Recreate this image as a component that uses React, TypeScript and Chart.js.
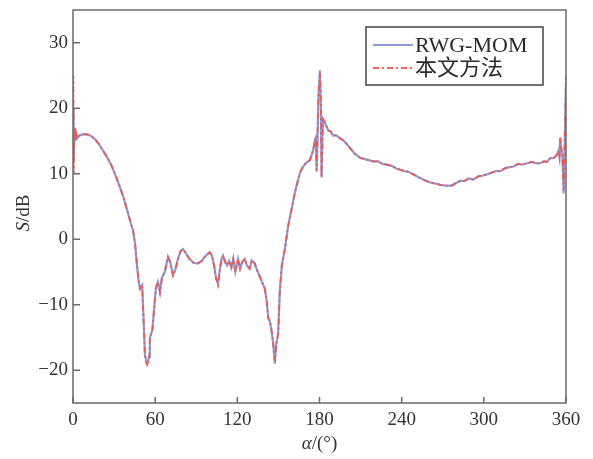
import React, { useEffect, useRef } from "react";
import { Chart, registerables } from "chart.js";

Chart.register(...registerables);

const angles = [
  0, 0.3, 0.6, 1, 1.5, 2.2, 3, 4.5, 7, 10, 13, 16, 19, 22, 25, 28, 31, 34, 37, 40,
  42, 44, 45.5, 46.5, 48, 49, 50.5, 51.5, 52.5, 53.5, 54.7, 55.5, 56.2, 58, 59.5, 60.5,
  62, 63.5, 65, 67, 69.4, 71, 73, 74.5, 76.7, 78.5, 80.3, 82, 85, 88, 91, 94, 97, 99.8,
  101.5, 103, 104.5, 105.9, 107, 108.5, 109.6, 111, 112.5, 114, 115.7, 117, 118.5, 120.5,
  122, 123.5, 125.4, 127, 129, 130.5, 132.7, 134, 136.4, 138, 140, 141.5, 142.5, 143.7,
  144.8, 146, 147.4, 148.4, 149.8, 151, 152.5, 154.7, 157.1, 159.6, 162, 164.4, 166, 168,
  170, 173, 175.4, 176.6, 177.3, 177.9, 178.5, 179.2, 180.3, 181, 181.5, 182.2, 182.7,
  184, 186.4, 188, 190, 192, 195, 198, 202, 206, 210, 214, 219, 223, 226, 229, 233, 236,
  239, 242, 245, 248.5, 252, 255, 258, 262, 265, 268, 272, 276.6, 279, 282.7, 286, 289,
  292.4, 296, 299, 302.2, 306, 309, 312, 316, 319, 321.7, 325, 328, 331.5, 335, 338,
  341.2, 344, 346, 348.5, 351, 353.4, 354.5, 355.2, 355.8, 356.5, 357.4, 358.3, 359,
  359.6, 360,
];

const rwgMom = [
  18, 20, 12, 17, 15, 16.2, 15.4, 15.8, 16, 16, 15.8, 15.3, 14.5, 13.5, 12.5, 11.3, 9.8, 8.1, 6.3, 4.1,
  2.6, 1.2, -1, -3.5, -6.5, -7.5, -7, -12, -17.5, -18.6, -18.8, -18, -15, -13.8, -10, -7.5,
  -6.5, -8, -5.8, -5, -2.7, -3.5, -5.4, -4.8, -3, -1.8, -1.5, -2, -3, -3.6, -3.7, -3.3, -2.5, -2,
  -2.5, -4, -6, -6.8, -5, -3, -2.5, -3.4, -4, -3.3, -4.3, -3, -5, -3,
  -4.5, -3.5, -3, -4, -4.5, -3.2, -3.7, -4.5, -5.7, -6.5, -7.5, -9.5, -12, -12.5,
  -13.7, -15.5, -19, -16, -14.5, -8, -4, -1.5, 2, 4.6, 7.1, 9.1, 10.3, 11.1,
  11.6, 12.1, 13.6, 15.1, 15.5, 10.5, 15, 21.7, 25.8, 21, 9.6, 16, 18.3,
  17.8, 16.6, 16.5, 15.8, 15.9, 15.4, 15, 14, 13, 12.4, 12.2, 11.9, 11.9, 11.5, 11.4, 11.2, 10.8,
  10.6, 10.4, 10.3, 9.9, 9.5, 9.2, 8.9, 8.6, 8.5, 8.3, 8.2, 8.2, 8.5, 8.9, 8.9, 9.3,
  9.1, 9.6, 9.7, 9.9, 10.2, 10.4, 10.4, 10.9, 11.0, 11.1, 11.5, 11.4, 11.6, 11.8, 11.6,
  11.6, 11.9, 11.8, 12.4, 12.4, 12.9, 13.5, 12.6, 15.5, 14, 12.5, 7, 14,
  20, 24,
];

const method = [
  18, 25, 10, 17, 15, 16.2, 15.4, 15.8, 16, 16, 15.8, 15.3, 14.5, 13.5, 12.5, 11.3, 9.8, 8.1, 6.3, 4.1,
  2.6, 1.2, -1, -3.5, -6.5, -7.6, -7, -12, -17.8, -18.9, -19.4, -18.2, -15, -13.8, -10, -7.5,
  -6.5, -8.2, -5.8, -5, -2.7, -3.5, -5.6, -4.8, -3, -1.8, -1.5, -2, -3, -3.6, -3.7, -3.3, -2.5, -2,
  -2.5, -4, -6, -7, -5, -3, -2.5, -3.4, -4, -3.3, -4.3, -3, -5, -3,
  -4.5, -3.5, -3, -4, -4.5, -3.2, -3.7, -4.5, -5.7, -6.5, -7.5, -9.5, -12, -12.5,
  -13.7, -15.5, -18.6, -16, -14.5, -8, -4, -1.5, 2, 4.6, 7.1, 9.1, 10.3, 11.1,
  11.6, 12.1, 13.6, 15.1, 15.5, 10.3, 15, 21.7, 25.5, 21, 9.3, 16, 18.3,
  17.8, 16.6, 16.5, 15.8, 15.9, 15.4, 15, 14, 13, 12.4, 12.2, 11.9, 11.9, 11.5, 11.4, 11.2, 10.8,
  10.6, 10.4, 10.3, 9.9, 9.5, 9.2, 8.9, 8.6, 8.5, 8.3, 8.2, 8.2, 8.5, 8.9, 8.9, 9.3,
  9.1, 9.6, 9.7, 9.9, 10.2, 10.4, 10.4, 10.9, 11.0, 11.1, 11.5, 11.4, 11.6, 11.8, 11.6,
  11.6, 11.9, 11.8, 12.4, 12.4, 12.9, 13.5, 12.6, 15.5, 14, 12.5, 7.5, 14,
  20, 25,
];

const yTicks = [-20, -10, 0, 10, 20, 30];
const seriesLabels = ["RWG-MOM", "本文方法"];

const SERIF = "'Liberation Serif', 'DejaVu Serif', serif";
const TICK_FONT = 19;

const framePlugin = {
  id: "frame",
  afterDatasetsDraw(chart: any) {
    const { ctx, chartArea } = chart;
    const { left, right, top, bottom } = chartArea;
    ctx.save();
    ctx.strokeStyle = "#6a6a6a";
    ctx.lineWidth = 1.5;
    ctx.strokeRect(left, top, right - left, bottom - top);
    const xs = chart.scales.x;
    const ys = chart.scales.y;
    ctx.beginPath();
    xs.ticks.forEach((t: any) => {
      const px = xs.getPixelForValue(t.value);
      ctx.moveTo(px, bottom);
      ctx.lineTo(px, bottom - 6);
    });
    ys.ticks.forEach((t: any) => {
      const py = ys.getPixelForValue(t.value);
      ctx.moveTo(left, py);
      ctx.lineTo(left + 7, py);
    });
    ctx.stroke();
    ctx.restore();
  },
};

const titlePlugin = {
  id: "axisTitles",
  afterDraw(chart: any) {
    const { ctx, chartArea } = chart;
    ctx.save();
    ctx.fillStyle = "#333";
    ctx.textBaseline = "middle";
    const xParts = [
      { t: "α", f: `italic ${TICK_FONT}px ${SERIF}` },
      { t: "/(°)", f: `${TICK_FONT}px ${SERIF}` },
    ];
    let total = 0;
    xParts.forEach((p) => {
      ctx.font = p.f;
      total += ctx.measureText(p.t).width;
    });
    let cx = (chartArea.left + chartArea.right) / 2 - total / 2;
    ctx.textAlign = "left";
    xParts.forEach((p) => {
      ctx.font = p.f;
      ctx.fillText(p.t, cx, 444);
      cx += ctx.measureText(p.t).width;
    });
    const yParts = [
      { t: "S", f: `italic ${TICK_FONT}px ${SERIF}` },
      { t: "/dB", f: `${TICK_FONT}px ${SERIF}` },
    ];
    total = 0;
    yParts.forEach((p) => {
      ctx.font = p.f;
      total += ctx.measureText(p.t).width;
    });
    ctx.translate(24, 213);
    ctx.rotate(-Math.PI / 2);
    let cy = -total / 2;
    yParts.forEach((p) => {
      ctx.font = p.f;
      ctx.fillText(p.t, cy, 0);
      cy += ctx.measureText(p.t).width;
    });
    ctx.restore();
  },
};

const legendPlugin = {
  id: "boxLegend",
  afterDraw(chart: any) {
    const { ctx, chartArea } = chart;
    const bx = chartArea.right - 200;
    const by = chartArea.top + 17;
    const bw = 177;
    const bh = 58;
    ctx.save();
    ctx.fillStyle = "#fff";
    ctx.fillRect(bx, by, bw, bh);
    ctx.strokeStyle = "#444";
    ctx.lineWidth = 1.5;
    ctx.strokeRect(bx, by, bw, bh);
    chart.data.datasets.forEach((ds: any, i: number) => {
      const y = by + 18 + i * 23;
      ctx.beginPath();
      ctx.strokeStyle = ds.borderColor;
      ctx.lineWidth = ds.borderWidth;
      ctx.setLineDash(ds.borderDash || []);
      ctx.moveTo(bx + 7, y);
      ctx.lineTo(bx + 47, y);
      ctx.stroke();
      ctx.setLineDash([]);
      ctx.fillStyle = "#2a2a2a";
      ctx.font = `22px ${SERIF}, 'Noto Sans CJK SC'`;
      ctx.textAlign = "left";
      ctx.textBaseline = "middle";
      ctx.fillText(ds.label, bx + 49, y + 1);
    });
    ctx.restore();
  },
};

export default function App() {
  const ref = useRef<HTMLCanvasElement | null>(null);
  useEffect(() => {
    document.body.style.margin = "0";
    const canvas = ref.current;
    if (!canvas) return;
    const chart = new Chart(canvas, {
      type: "line",
      data: {
        datasets: [
          {
            label: seriesLabels[0],
            data: angles.map((a, i) => ({ x: a, y: rwgMom[i] })),
            borderColor: "rgba(105,120,205,0.75)",
            borderWidth: 2.2,
            pointRadius: 0,
            tension: 0,
            order: 2,
          },
          {
            label: seriesLabels[1],
            data: angles.map((a, i) => ({ x: a, y: method[i] })),
            borderColor: "rgba(240,85,75,0.9)",
            borderWidth: 1.8,
            borderDash: [6, 3, 2, 3],
            pointRadius: 0,
            tension: 0,
            order: 1,
          },
        ],
      },
      options: {
        animation: false,
        responsive: false,
        devicePixelRatio: 1,
        layout: { autoPadding: false, padding: { top: 10, right: 27, left: 0, bottom: 0 } },
        plugins: { legend: { display: false }, tooltip: { enabled: false } },
        scales: {
          x: {
            type: "linear",
            min: 0,
            max: 360,
            ticks: {
              stepSize: 60,
              color: "#333",
              font: { family: SERIF, size: TICK_FONT },
              padding: 6,
              maxRotation: 0,
            },
            grid: { display: false, drawTicks: false },
            border: { display: false },
            afterFit: (s: any) => {
              s.height = 56;
              s.paddingLeft = 0;
              s.paddingRight = 0;
              s.paddingTop = 0;
              s.paddingBottom = 0;
            },
          },
          y: {
            type: "linear",
            min: -25,
            max: 35,
            afterBuildTicks: (s: any) => {
              s.ticks = yTicks.map((v) => ({ value: v }));
            },
            ticks: {
              color: "#333",
              font: { family: SERIF, size: TICK_FONT },
              padding: 5,
              callback: (v: any) => (Number(v) < 0 ? "−" + Math.abs(Number(v)) : String(v)),
            },
            grid: { display: false, drawTicks: false },
            border: { display: false },
            afterFit: (s: any) => {
              s.width = 73;
              s.paddingTop = 0;
              s.paddingBottom = 0;
              s.paddingLeft = 0;
              s.paddingRight = 0;
            },
          },
        },
      },
      plugins: [framePlugin, titlePlugin, legendPlugin],
    });
    return () => chart.destroy();
  }, []);
  return <canvas ref={ref} width={593} height={459} style={{ display: "block" }} />;
}
